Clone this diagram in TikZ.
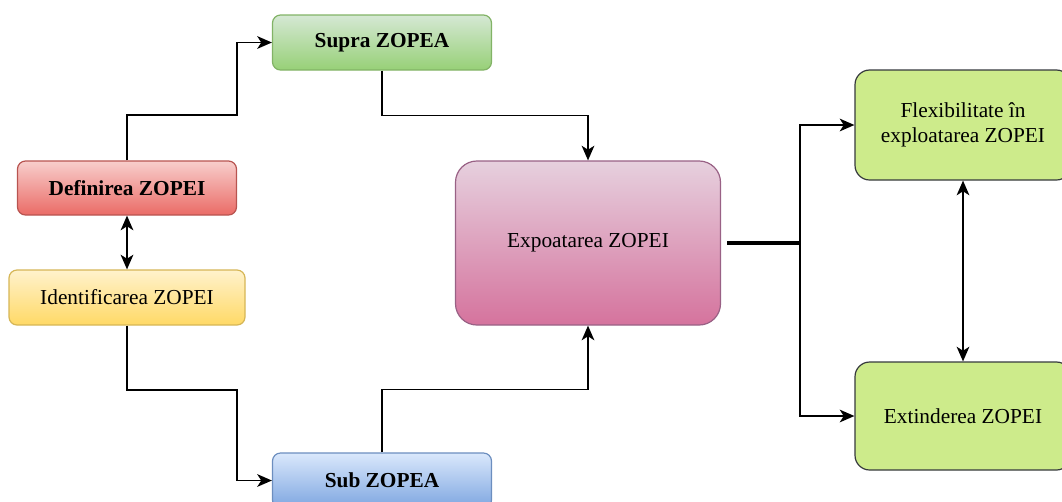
\documentclass[tikz,border=0pt]{standalone}
\usepackage{fontspec}
\setmainfont{Liberation Serif}
\usetikzlibrary{arrows.meta}

\definecolor{redtop}{HTML}{F8CECC}
\definecolor{redbot}{HTML}{EA6B66}
\definecolor{redline}{HTML}{B85450}
\definecolor{yeltop}{HTML}{FFF2CC}
\definecolor{yelbot}{HTML}{FFD966}
\definecolor{yelline}{HTML}{D6B656}
\definecolor{grntop}{HTML}{D5E8D4}
\definecolor{grnbot}{HTML}{97D077}
\definecolor{grnline}{HTML}{82B366}
\definecolor{blutop}{HTML}{DAE8FC}
\definecolor{blubot}{HTML}{7EA6E0}
\definecolor{bluline}{HTML}{6C8EBF}
\definecolor{pnktop}{HTML}{E6D0DE}
\definecolor{pnkbot}{HTML}{D5739D}
\definecolor{pnkline}{HTML}{996185}
\definecolor{limefill}{HTML}{CDEB8B}
\definecolor{limeline}{HTML}{36393D}

\tikzset{
  box/.style={rectangle, rounded corners=6pt, line width=0.9pt, align=center,
    font=\fontsize{16}{19}\selectfont, text=black, inner sep=2pt},
  boldbox/.style={font=\fontsize{16}{19}\selectfont\bfseries},
  redbox/.style={box, draw=redline, top color=redtop, bottom color=redbot},
  yelbox/.style={box, draw=yelline, top color=yeltop, bottom color=yelbot},
  grnbox/.style={box, draw=grnline, top color=grntop, bottom color=grnbot},
  blubox/.style={box, draw=bluline, top color=blutop, bottom color=blubot},
  pnkbox/.style={box, rounded corners=16pt, draw=pnkline, top color=pnktop, bottom color=pnkbot},
  limebox/.style={box, rounded corners=11pt, draw=limeline, fill=limefill},
  conn/.style={draw=black, line width=1.3pt},
  arr/.style={conn, -{Stealth[length=11pt,width=9.5pt,inset=3pt]}},
  darr/.style={conn, {Stealth[length=11pt,width=9.5pt,inset=3pt]}-{Stealth[length=11pt,width=9.5pt,inset=3pt]}},
}

\begin{document}
\begin{tikzpicture}[x=0.75pt, y=-0.75pt]
\clip (0,0) rectangle (1062,501);

% boxes
\node[redbox, boldbox, minimum width=164.25pt, minimum height=40.5pt]
  (def) at (127,188) {Definirea ZOPEI};
\node[yelbox, minimum width=177pt, minimum height=41.25pt]
  (ide) at (127,297.5) {Identificarea ZOPEI};
\node[grnbox, boldbox, minimum width=164.25pt, minimum height=41.25pt]
  (sup) at (382,42.5) {Supra ZOPEA};
\node[blubox, boldbox, minimum width=164.25pt, minimum height=41.25pt]
  (sub) at (382,480.5) {Sub ZOPEA};
\node[pnkbox, minimum width=198.75pt, minimum height=123pt]
  (exp) at (588,243) {Expoatarea ZOPEI};
\node[limebox, minimum width=162pt, minimum height=82.5pt]
  (flex) at (963,125) {Flexibilitate în\\exploatarea ZOPEI};
\node[limebox, minimum width=162pt, minimum height=81pt]
  (ext) at (963,416) {Extinderea ZOPEI};

% bend points
\coordinate (b1) at (237,115);
\coordinate (b3) at (237,390);
\coordinate (j) at (800,243);

% connectors
\draw[arr] (def.north) |- (b1) |- (sup.west);
\draw[arr] (sup.south) -- ++(0,45) -| (exp.north);
\draw[darr] (def.south) -- (ide.north);
\draw[arr] (ide.south) |- (b3) |- (sub.west);
\draw[arr] (sub.north) -- ++(0,-63) -| (exp.south);
\draw[conn, line width=2.3pt] (exp.east) ++(6,0) -- (j);
\draw[arr] (j) |- (flex.west);
\draw[arr] (j) |- (ext.west);
\draw[darr] (flex.south) -- (ext.north);
\end{tikzpicture}
\end{document}
